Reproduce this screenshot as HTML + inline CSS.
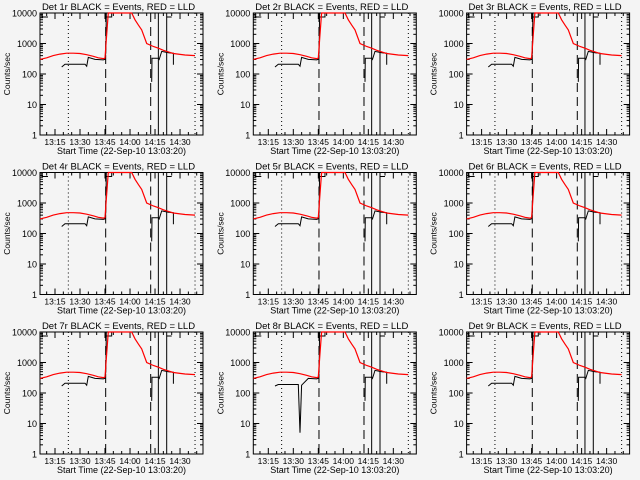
<!DOCTYPE html>
<html><head><meta charset="utf-8"><style>
html,body{margin:0;padding:0;background:#f4f4f4;}
svg{display:block;}
text{font-family:"Liberation Sans",sans-serif;fill:#000;}
</style></head><body>
<svg id="chart" width="640" height="480" viewBox="0 0 640 480"></svg>
<script>
// Data: minutes after 13:00 and counts/sec
const detectors = ["1r","2r","3r","4r","5r","6r","7r","8r","9r"];
const xTickMinutes = [15,30,45,60,75,90];
const xTickLabels = ["13:15","13:30","13:45","14:00","14:15","14:30"];
const yTickValues = [1,10,100,1000,10000];
const yTickLabels = ["1","10","100","1000","10000"];
const redMinutes = [6,10,14,18,22,26,30,34,38,41,44,45,46,47,61,63,65,67,70,74,77,80,83,86,90,93,99];
const redValues  = [300,340,400,450,480,480,470,430,380,340,320,330,2000,10000,10000,6000,4000,2800,1000,800,700,600,530,470,440,420,400];
const blackMinutesA = [19,21,33,34,35,39,44,45,45.5,45.8];
const blackValuesA  = [170,210,210,180,350,300,290,300,500,10000];
const blackMinutesB = [73,73.2,77,77.5,79,83,86,86];
const blackValuesB  = [55,330,330,300,550,500,480,200];
const dottedLines = [23,99];
const dashedLines = [45.4,72.4];
const solidLines = [77,82];

const NS="http://www.w3.org/2000/svg";
const svg=document.getElementById('chart');
function mk(tag,attrs,parent){const e=document.createElementNS(NS,tag);for(const k in attrs)e.setAttribute(k,attrs[k]);(parent||svg).appendChild(e);return e;}

detectors.forEach((det,i)=>{
  const col=i%3,row=Math.floor(i/3);
  const L=40+col*213.3, R=L+163, T=13+row*159.5, B=T+122;
  const g=mk('g',{});
  
  
  const xs=m=>L+(m-6)*1.667;
  const ys=v=>B-Math.log10(v)*(B-T)/4;
  const fr=mk('rect',{x:L,y:T,width:R-L,height:B-T,fill:'none',stroke:'#000','stroke-width':1},g);
  
  
  for(let d=0;d<4;d++)for(let k=2;k<=9;k++){const y=ys(Math.pow(10,d)*k);
    mk('line',{x1:L,x2:L+3,y1:y,y2:y,stroke:'#000'},g);mk('line',{x1:R,x2:R-3,y1:y,y2:y,stroke:'#000'},g);}
  yTickValues.forEach((v,j)=>{const y=ys(v);
    mk('line',{x1:L,x2:L+6,y1:y,y2:y,stroke:'#000'},g);mk('line',{x1:R,x2:R-6,y1:y,y2:y,stroke:'#000'},g);
    const t=mk('text',{x:L-3,y:y+3.5,'text-anchor':'end','font-size':'9'},g);t.textContent=yTickLabels[j];
    
    });
  for(let m=10;m<=100;m+=5){const x=xs(m);if(x<L||x>R)continue;const len=(m%15===0)?6:3;
    mk('line',{x1:x,x2:x,y1:B,y2:B-len,stroke:'#000'},g);mk('line',{x1:x,x2:x,y1:T,y2:T+len,stroke:'#000'},g);}
  xTickMinutes.forEach((m,j)=>{const t=mk('text',{x:xs(m),y:B+10,'text-anchor':'middle','font-size':'8.5'},g);t.textContent=xTickLabels[j];
    
    });
  const xl=mk('text',{x:(L+R)/2,y:B+19,'text-anchor':'middle','font-size':'9'},g);xl.textContent='Start Time (22-Sep-10 13:03:20)';
  
  
  const yl=mk('text',{x:0,y:0,'text-anchor':'middle',transform:`translate(${L-30},${(T+B)/2}) rotate(-90)`,'font-size':'8.5'},g);yl.textContent='Counts/sec';
  
  
  const tt=mk('text',{x:(L+R)/2-3,y:T-3,'text-anchor':'middle','font-size':'9.5'},g);tt.textContent='Det '+det+' BLACK = Events, RED = LLD';
  
  
  dottedLines.forEach(m=>{const l=mk('line',{x1:xs(m),x2:xs(m),y1:T,y2:B,stroke:'#000','stroke-dasharray':'1,3'},g);
    });
  dashedLines.forEach(m=>{const l=mk('line',{x1:xs(m),x2:xs(m),y1:T,y2:B,stroke:'#000','stroke-dasharray':'9,5'},g);
    });
  solidLines.forEach(m=>{const l=mk('line',{x1:xs(m),x2:xs(m),y1:T,y2:B,stroke:'#000'},g);
    });
  mk('polyline',{points:`${L+2},${T} ${L+2},${T+4} ${L+8},${T+4}`,fill:'none',stroke:'#000'},g);
  mk('polyline',{points:`${xs(45.8)},${T+4} ${xs(49)},${T+4} ${xs(49)},${T}`,fill:'none',stroke:'#000'},g);
  mk('polyline',{points:`${xs(82)},${T+4} ${xs(85)},${T+4}`,fill:'none',stroke:'#000'},g);
  const pathFrom=(ms,vs)=>ms.map((m,j)=>`${j?'L':'M'}${xs(m).toFixed(1)},${ys(vs[j]).toFixed(1)}`).join(' ');
  let bA=blackValuesA.slice();
  if(det==='8r'){bA=[170,190,190,5,180,300,290,300,500,10000];}
  const pa=mk('path',{d:pathFrom(blackMinutesA,bA),fill:'none',stroke:'#000','stroke-width':1},g);
  
  
  const pb=mk('path',{d:pathFrom(blackMinutesB,blackValuesB),fill:'none',stroke:'#000','stroke-width':1},g);
  
  
  const pr=mk('path',{d:pathFrom(redMinutes,redValues),fill:'none',stroke:'#ff0000','stroke-width':1.2},g);
  
  
});
</script>
</body></html>
